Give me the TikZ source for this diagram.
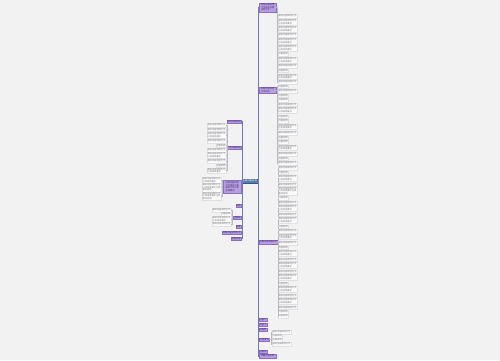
\documentclass[tikz,border=0pt]{standalone}
\usepackage{fontspec}
\setmainfont{Noto Sans CJK SC}
\definecolor{bg}{RGB}{242,242,242}
\definecolor{pfill}{RGB}{183,160,222}
\definecolor{pdraw}{RGB}{140,110,195}
\definecolor{ptext}{RGB}{70,40,120}
\definecolor{rfill}{RGB}{78,125,178}
\definecolor{trunkc}{RGB}{105,125,190}
\definecolor{twigc}{RGB}{185,185,195}
\definecolor{ltext}{RGB}{120,120,120}
\newcommand\filltxt[1]{\ifcase#1\or 内容说明\or 相关内容说明文字\or 相关内容说明文字\\以及具体要求\or 相关内容说明文字\\以及具体要求注意\\事项说明\fi}
\tikzset{
  rootbox/.style={fill=rfill,draw=rfill!70!black,line width=0.2pt,text=white,font=\fontsize{2.4}{2.8}\selectfont,inner sep=0.7pt,minimum width=16pt,minimum height=4.5pt},
  lonebox/.style={fill=pfill,draw=pdraw,line width=0.2pt,text=ptext,font=\fontsize{2.2}{2.6}\selectfont,inner sep=0.6pt,align=left},
  leafbox/.style={fill=white!60!bg,draw=twigc!45,line width=0.15pt,text=ltext,font=\fontsize{2.2}{2.6}\selectfont,inner sep=0.6pt,align=left},
  trunk/.style={draw=trunkc,line width=0.4pt},
  twig/.style={draw=twigc,line width=0.2pt}
}
\begin{document}
\begin{tikzpicture}[x=1pt,y=-1pt]
\fill[bg] (0,0) rectangle (500,360);
\useasboundingbox (0,0) rectangle (500,360);
% root
\node[rootbox] (root) at (249.7,181) {主题内容名称};
% right first level
\node[lonebox,anchor=west,minimum width=17pt] (R1) at (259,7.5) {标题内容说明\\文字相关内容\\说明文字};
\node[lonebox,anchor=west,minimum width=17pt] (R2) at (259,90) {标题内容说明\\文字相关};
\node[lonebox,anchor=west,minimum width=18pt] (R3) at (259,242) {标题内容说明文字};
\node[lonebox,anchor=west] (R4) at (259,319.5) {内容二};
\node[lonebox,anchor=west] (R5) at (259,324.5) {内容三};
\node[lonebox,anchor=west] (R6) at (259,329.5) {内容四};
\node[lonebox,anchor=west] (R7) at (259,339.5) {内容说明};
\node[lonebox,anchor=west] (R8) at (259,351.5) {内容五};
\node[lonebox,anchor=west,minimum width=17pt] (R9) at (259,356) {标题内容说明};
\foreach \r in {R1,R2,R3,R4,R5,R6,R7,R8,R9}
  \draw[trunk] (root.east) -- (258.3,181) |- (\r.west);
% left first level
\node[lonebox,anchor=east] (L1) at (241.3,121.5) {标题内容说明};
\node[lonebox,anchor=east] (L2) at (241.3,147.5) {标题内容说明};
\node[lonebox,anchor=east,minimum width=18pt,minimum height=13pt] (L3) at (241.3,186.5) {标题内容说明\\文字相关内容\\说明文字以及\\具体要求};
\node[lonebox,anchor=east] (L4) at (241.3,205.5) {内容};
\node[lonebox,anchor=east] (L5) at (241.3,217.5) {内容说};
\node[lonebox,anchor=east] (L6) at (241.3,226.5) {内容};
\node[lonebox,anchor=east] (L7) at (241.3,232.5) {标题内容说明文字};
\node[lonebox,anchor=east] (L8) at (241.3,238.5) {标题内容};
\foreach \l in {L1,L2,L3,L4,L5,L6,L7,L8}
  \draw[trunk] (root.west) -- (241.7,181) |- (\l.east);
% right leaves
\foreach \y/\n [count=\i] in {16/2,22/3,29/3,35/2,41/3,48/3,54/1,60/3,66/2,70.5/1,76.5/3,82/2}{
  \node[leafbox,anchor=west] (a\i) at (278,\y) {\filltxt{\n}};
  \draw[twig] (R1.east) -- (277.3,7.5) |- (a\i.west);}
\foreach \y/\n [count=\i] in {86.5/1,91/2,95.5/1,100/1,104.5/2,110/3,116.5/1,121/1,126.5/3,133/2,137.5/1,142/1,147.5/3,154/2,158.5/1,163/2}{
  \node[leafbox,anchor=west] (b\i) at (278,\y) {\filltxt{\n}};
  \draw[twig] (R2.east) -- (277.3,90) |- (b\i.west);}
\foreach \y/\n [count=\i] in {168/2,172.5/1,178/3,184.5/2,191/4,198/1,202.5/2,208/3,214.5/2,220/3,226.5/1,231/2,236.5/3,243/2,247.5/1,253/3,259.5/2,265/3,271.5/2,277/3,283.5/1,289/3,295.5/2,301/3,307.5/2,312/1,316/1}{
  \node[leafbox,anchor=west] (c\i) at (278,\y) {\filltxt{\n}};
  \draw[twig] (R3.east) -- (277.6,242) |- (c\i.west);}
\foreach \y/\n [count=\i] in {332/2,336/1,340/1,344/2}{
  \node[leafbox,anchor=west] (d\i) at (272,\y) {\filltxt{\n}};
  \draw[twig] (R7.east) -- (271.3,339.5) |- (d\i.west);}
% left leaves
\foreach \y/\n [count=\i] in {125/2,129.5/2,135/3,141/2,145.5/1,150/2,155/3,161/2,165.5/1,170.5/3}{
  \node[leafbox,anchor=east] (e\i) at (226,\y) {\filltxt{\n}};
  \draw[twig] (L2.west) -- (226.6,147.5) |- (e\i.east);}
\foreach \y/\n [count=\i] in {180/3,187.5/4,196/4}{
  \node[leafbox,anchor=east] (f\i) at (221,\y) {\filltxt{\n}};
  \draw[twig] (L3.west) -- (221.6,186.5) |- (f\i.east);}
\foreach \y/\n [count=\i] in {210/2,214/1,219/3,224/2}{
  \node[leafbox,anchor=east] (g\i) at (231,\y) {\filltxt{\n}};
  \draw[twig] (L5.west) -- (231.6,217.5) |- (g\i.east);}
\end{tikzpicture}
\end{document}
